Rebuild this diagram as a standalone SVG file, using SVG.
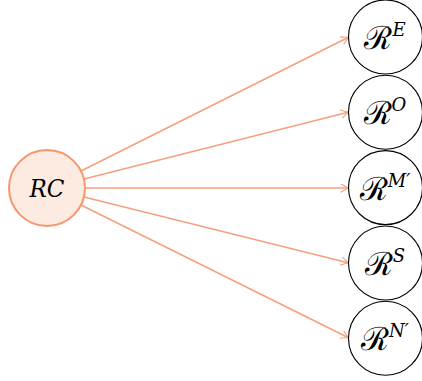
<svg xmlns="http://www.w3.org/2000/svg" width="422" height="381" viewBox="0 0 422 381">
<defs>
<style>
.tgt{fill:#fff;stroke:#000;stroke-width:1.1}
.src{fill:#FDEBE2;stroke:#F7956B;stroke-width:2}
.edge{stroke:#F7A07C;stroke-width:1.7;fill:none;marker-end:url(#ah)}
.lbl{font-size:32px;fill:#000}
</style>
<marker id="ah" viewBox="0 0 10 10" refX="9.5" refY="5" markerWidth="9" markerHeight="9" markerUnits="userSpaceOnUse" orient="auto">
<path d="M1,0.5 Q6,4 9.5,5 Q6,6 1,9.5" fill="none" stroke="#F7A07C" stroke-width="1.3" stroke-linecap="round"/>
</marker>
</defs>
<g id="connectors">
<line class="edge" x1="81" y1="171" x2="349" y2="37"/>
<line class="edge" x1="84" y1="179" x2="349" y2="112"/>
<line class="edge" x1="85" y1="188" x2="349" y2="188"/>
<line class="edge" x1="84" y1="197" x2="349" y2="263"/>
<line class="edge" x1="81" y1="205" x2="349" y2="338"/>
</g>
<g id="RC">
<circle class="src" cx="47" cy="188" r="38"/>
<text x="47" y="197" text-anchor="middle" font-family="DejaVu Serif" font-style="italic" font-size="24" fill="#000" textLength="35" lengthAdjust="spacingAndGlyphs">RC</text>
</g>
<g id="RE" font-family="DejaVu Serif">
<circle class="tgt" cx="385.5" cy="37" r="37"/>
<text class="lbl" x="385" y="49" text-anchor="middle">ℛ<tspan font-style="italic" font-size="18" dy="-13">E</tspan></text>
</g>
<g id="RO" font-family="DejaVu Serif">
<circle class="tgt" cx="385.5" cy="112.3" r="37"/>
<text class="lbl" x="385" y="124" text-anchor="middle">ℛ<tspan font-style="italic" font-size="18" dy="-13">O</tspan></text>
</g>
<g id="RM" font-family="DejaVu Serif">
<circle class="tgt" cx="385.5" cy="187.6" r="37"/>
<text class="lbl" x="385" y="200" text-anchor="middle">ℛ<tspan font-style="italic" font-size="18" dy="-13">M′</tspan></text>
</g>
<g id="RS" font-family="DejaVu Serif">
<circle class="tgt" cx="385.5" cy="263" r="37"/>
<text class="lbl" x="385" y="275" text-anchor="middle">ℛ<tspan font-style="italic" font-size="18" dy="-13">S</tspan></text>
</g>
<g id="RN" font-family="DejaVu Serif">
<circle class="tgt" cx="385.5" cy="338.3" r="37"/>
<text class="lbl" x="385" y="350" text-anchor="middle">ℛ<tspan font-style="italic" font-size="18" dy="-13">N′</tspan></text>
</g>
</svg>
